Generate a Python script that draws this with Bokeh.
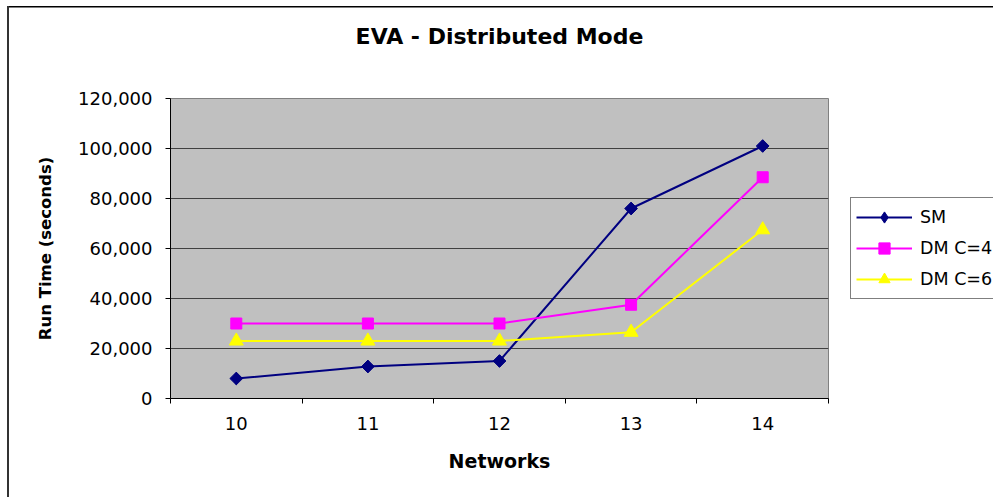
import numpy as np
from bokeh.plotting import figure
from bokeh.models import (Range1d, FixedTicker, NumeralTickFormatter, Legend,
                          LegendItem, LinearAxis, ColumnDataSource)
from bokeh.embed import file_html
from bokeh.resources import INLINE

# ---- data ----
networks = [10, 11, 12, 13, 14]
tick_labels = ["10", "11", "12", "13", "14"]
sm = [8000, 12800, 15000, 76000, 101000]
dm_c4 = [30000, 30000, 30000, 37500, 88500]
dm_c6 = [23000, 23000, 23000, 26500, 67500]
y_ticks = [0, 20000, 40000, 60000, 80000, 100000, 120000]
chart_title = "EVA - Distributed Mode"

FONT = "DejaVu Sans"

p = figure(width=993, height=497, output_backend="svg", toolbar_location=None,
           x_range=Range1d(min(networks) - 0.5, max(networks) + 0.5),
           y_range=Range1d(0, 120000),
           frame_width=658, frame_height=300,
           min_border_left=170, min_border_right=165,
           min_border_top=98, min_border_bottom=99)

p.background_fill_color = "#C0C0C0"
p.border_fill_color = None
p.outline_line_color = "#808080"
p.outline_line_width = 1
# outer chart-area border (left and top edges visible in the window)
p.styles = {
    "background": ("linear-gradient(#333333,#333333) 7px 5.5px / 2px 100% no-repeat, "
                   "linear-gradient(#000000,#000000) 7px 5.5px / 100% 1.5px no-repeat, "
                   "#ffffff"),
}

# chart title, placed in the top panel
p.title.text = ""
top = LinearAxis(ticker=FixedTicker(ticks=[], minor_ticks=[]),
                 axis_line_color=None, major_tick_line_color=None,
                 minor_tick_line_color=None, major_tick_out=0,
                 major_tick_in=0, minor_tick_out=0, minor_tick_in=0,
                 major_label_standoff=0,
                 axis_label=chart_title,
                 axis_label_text_font=FONT,
                 axis_label_text_font_size="22px",
                 axis_label_text_font_style="bold",
                 axis_label_text_color="black",
                 axis_label_standoff=50)
p.add_layout(top, "above")

# grid
p.xgrid.visible = False
p.ygrid.ticker = FixedTicker(ticks=y_ticks)
p.ygrid.grid_line_color = "#404040"
p.ygrid.grid_line_width = 1

# x axis
xa = p.below[0]
xa.ticker = FixedTicker(ticks=networks,
                        minor_ticks=[n - 0.5 for n in networks] + [networks[-1] + 0.5])
xa.major_label_overrides = {n: l for n, l in zip(networks, tick_labels)}
xa.major_tick_line_color = None
xa.major_tick_out = 0
xa.major_tick_in = 0
xa.minor_tick_line_color = "black"
xa.minor_tick_out = 5
xa.minor_tick_in = 0
xa.axis_line_color = "black"
xa.major_label_text_font = FONT
xa.major_label_text_font_size = "18px"
xa.major_label_text_color = "black"
xa.major_label_standoff = 13
xa.axis_label = "Networks"
xa.axis_label_text_font = FONT
xa.axis_label_text_font_size = "19px"
xa.axis_label_text_font_style = "bold"
xa.axis_label_text_color = "black"
xa.axis_label_standoff = 17

# y axis
ya = p.yaxis[0]
ya.ticker = FixedTicker(ticks=y_ticks)
ya.formatter = NumeralTickFormatter(format="0,0")
ya.major_tick_out = 5
ya.major_tick_in = 0
ya.major_tick_line_color = "black"
ya.minor_tick_line_color = None
ya.axis_line_color = "black"
ya.major_label_text_font = FONT
ya.major_label_text_font_size = "18px"
ya.major_label_text_color = "black"
ya.major_label_standoff = 13
ya.axis_label = "Run Time (seconds)"
ya.axis_label_text_font = FONT
ya.axis_label_text_font_size = "16.5px"
ya.axis_label_text_font_style = "bold"
ya.axis_label_text_color = "black"
ya.axis_label_standoff = 20

# series
sm_src = ColumnDataSource(data=dict(x=networks, y=sm))
l1 = p.line("x", "y", source=sm_src, line_color="#000080", line_width=2)
# diamond used as the SM legend key; it lies fully inside the rotated squares
m1_key = p.scatter("x", "y", source=sm_src, marker="diamond", size=12,
                   fill_color="#000080", line_color="#000080")
m1 = p.scatter("x", "y", source=sm_src, marker="square", angle=np.pi / 4, size=9,
               fill_color="#000080", line_color="#000080")
l2 = p.line(networks, dm_c4, line_color="#FF00FF", line_width=2)
m2 = p.scatter(networks, dm_c4, marker="square", size=11,
               fill_color="#FF00FF", line_color="#FF00FF")
l3 = p.line(networks, dm_c6, line_color="#FFFF00", line_width=2)
m3 = p.scatter(networks, dm_c6, marker="triangle", size=14,
               fill_color="#FFFF00", line_color="#FFFF00")

legend = Legend(items=[
    LegendItem(label="SM", renderers=[l1, m1_key]),
    LegendItem(label="DM C=4", renderers=[l2, m2]),
    LegendItem(label="DM C=6", renderers=[l3, m3]),
], location="center_left")
legend.glyph_width = 56
legend.glyph_height = 28
legend.spacing = 3
legend.padding = 5
legend.margin = 22
legend.label_standoff = 8
legend.label_text_font = FONT
legend.label_text_font_size = "17.5px"
legend.label_text_color = "black"
legend.border_line_color = "black"
legend.border_line_width = 1
legend.background_fill_color = "white"
legend.background_fill_alpha = 1
p.add_layout(legend, "right")

open("out.html", "w").write(file_html(p, INLINE))
